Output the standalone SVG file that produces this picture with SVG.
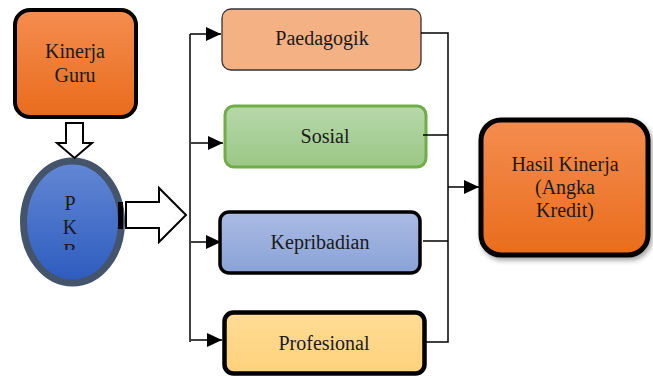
<svg xmlns="http://www.w3.org/2000/svg" width="653" height="376" viewBox="0 0 653 376">
<style>
text{font-family:"Liberation Serif","Times New Roman",serif;font-size:20px;fill:#1a1a1a;text-anchor:middle}
.conn{stroke:#000;stroke-width:1.5;fill:none}
.blk{fill:#fff;stroke:#000;stroke-width:2;stroke-linejoin:miter}
</style>
<defs>
<marker id="ah" viewBox="0 0 15 14" refX="15" refY="7" markerWidth="15" markerHeight="14" markerUnits="userSpaceOnUse" orient="auto">
<path d="M0,0 L15,7 L0,14 z" fill="#000"/>
</marker>
<linearGradient id="gOr" x1="0" y1="0" x2="0" y2="1"><stop offset="0" stop-color="#F48D50"/><stop offset="1" stop-color="#E96C1C"/></linearGradient>
<linearGradient id="gBl" x1="0" y1="0" x2="0" y2="1"><stop offset="0" stop-color="#6388D4"/><stop offset="1" stop-color="#2D5BBE"/></linearGradient>
<linearGradient id="gGr" x1="0" y1="0" x2="0" y2="1"><stop offset="0" stop-color="#B7D8AA"/><stop offset="1" stop-color="#9BC787"/></linearGradient>
<linearGradient id="gLb" x1="0" y1="0" x2="0" y2="1"><stop offset="0" stop-color="#AABBE4"/><stop offset="1" stop-color="#8AA2D7"/></linearGradient>
<linearGradient id="gYe" x1="0" y1="0" x2="0" y2="1"><stop offset="0" stop-color="#FFDC95"/><stop offset="1" stop-color="#FFD17C"/></linearGradient>
<clipPath id="pkbClip"><rect x="40" y="185" width="60" height="65"/></clipPath>
<filter id="sh" x="-20%" y="-20%" width="150%" height="150%"><feDropShadow dx="2" dy="3" stdDeviation="2.5" flood-color="#000" flood-opacity="0.35"/></filter>
</defs>

<g id="kinerja-guru">
<rect x="15" y="10" width="121" height="107" rx="15" fill="url(#gOr)" stroke="#000" stroke-width="4"/>
<text x="75" y="58">Kinerja</text>
<text x="75" y="82">Guru</text>
</g>

<g id="pkb">
<ellipse cx="72.5" cy="222" rx="49" ry="61" fill="url(#gBl)" stroke="#44546A" stroke-width="7"/>
<g clip-path="url(#pkbClip)">
<text x="70" y="210">P</text>
<text x="70" y="234">K</text>
<text x="70" y="258">B</text>
</g>
</g>

<g id="paedagogik">
<rect x="222" y="9" width="199" height="61" rx="9" fill="#F4B183" stroke="#333" stroke-width="1.3"/>
<text x="322" y="45">Paedagogik</text>
</g>

<g id="sosial">
<rect x="225" y="106" width="201" height="61" rx="9" fill="url(#gGr)" stroke="#70AD47" stroke-width="3"/>
<text x="325" y="143">Sosial</text>
</g>

<g id="kepribadian">
<rect x="220" y="212" width="200" height="61" rx="9" fill="url(#gLb)" stroke="#000" stroke-width="3.5"/>
<text x="320" y="249">Kepribadian</text>
</g>

<g id="profesional">
<rect x="224.5" y="312.5" width="200" height="61" rx="9" fill="url(#gYe)" stroke="#000" stroke-width="4.5"/>
<text x="324" y="350">Profesional</text>
</g>

<g id="hasil-kinerja">
<rect x="481" y="120" width="167" height="135" rx="20" fill="url(#gOr)" stroke="#000" stroke-width="5" filter="url(#sh)"/>
<text x="565" y="171">Hasil Kinerja</text>
<text x="565" y="194">(Angka</text>
<text x="565" y="217">Kredit)</text>
</g>

<g id="connectors">
<path class="blk" d="M66,123 H83 V143 H92 L74.5,158 L57,143 H66 Z"/>
<rect x="118" y="202" width="5" height="27" fill="#000"/>
<path class="blk" d="M126,202 H159 V188 L186,215 L159,242 V228 H126 Z"/>
<path class="conn" d="M190,34 V342"/>
<path class="conn" d="M190,34 H221" marker-end="url(#ah)"/>
<path class="conn" d="M191,143 H223" marker-end="url(#ah)"/>
<path class="conn" d="M191,242 H221" marker-end="url(#ah)"/>
<path class="conn" d="M191,340 H222" marker-end="url(#ah)"/>
<path class="conn" d="M421,33 H448 V342 H426"/>
<path class="conn" d="M423,135 H448"/>
<path class="conn" d="M423,241 H448"/>
<path class="conn" d="M448,187 H479" marker-end="url(#ah)"/>
</g>
</svg>
